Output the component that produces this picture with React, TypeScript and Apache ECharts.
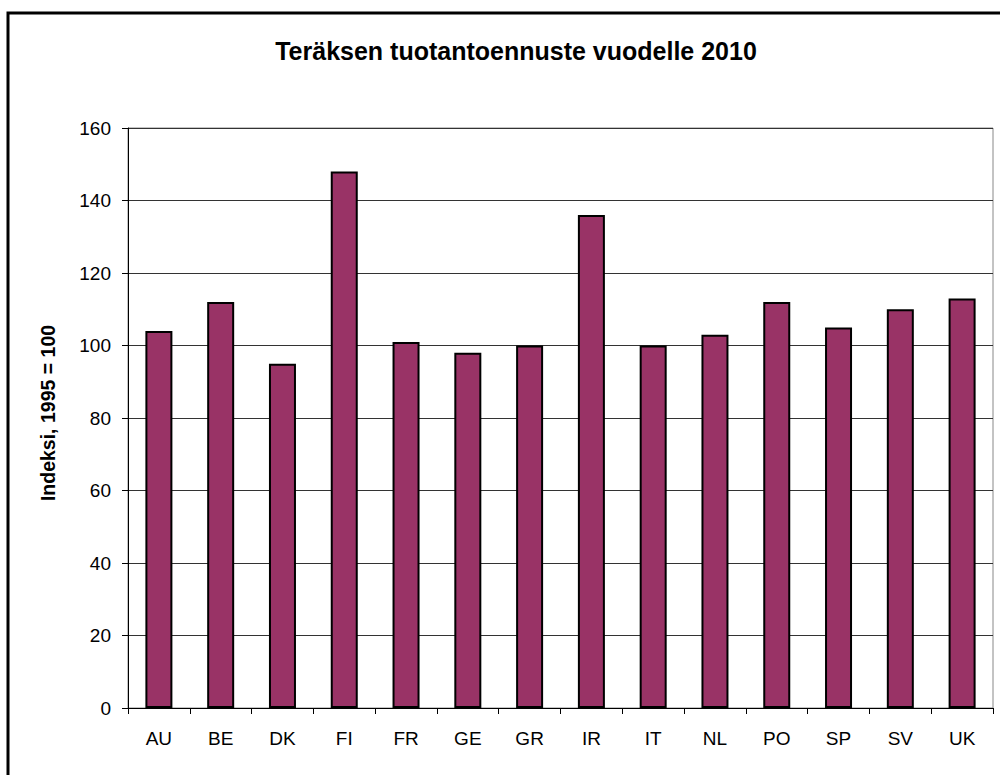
import React, { useEffect, useRef } from "react";
import * as echarts from "echarts";

const categories = ["AU", "BE", "DK", "FI", "FR", "GE", "GR", "IR", "IT", "NL", "PO", "SP", "SV", "UK"];
const values = [104, 112, 95, 148, 101, 98, 100, 136, 100, 103, 112, 105, 110, 113];
const titleText = "Teräksen tuotantoennuste vuodelle 2010";
const yAxisName = "Indeksi, 1995 = 100";

const FONT = "'Liberation Sans', Arial, sans-serif";

export default function App() {
  const ref = useRef<HTMLDivElement>(null);
  useEffect(() => {
    if (!ref.current) return;
    const chart = echarts.init(ref.current, undefined, { renderer: "svg" });
    chart.setOption({
      animation: false,
      backgroundColor: "#ffffff",
      title: {
        text: titleText,
        left: 511,
        top: 33,
        textAlign: "center",
        textStyle: { fontFamily: FONT, fontSize: 25, fontWeight: "bold", color: "#000" },
      },
      graphic: [
        {
          type: "rect",
          shape: { x: 8, y: 13, width: 1000, height: 780 },
          style: { fill: "none", stroke: "#000", lineWidth: 3 },
          silent: true,
        },
      ],
      grid: {
        left: 128,
        top: 128,
        right: 7,
        bottom: 67,
        show: true,
        borderColor: "#888",
        borderWidth: 1,
      },
      xAxis: {
        type: "category",
        data: categories,
        axisLine: { show: true, lineStyle: { color: "#000", width: 1 } },
        axisTick: { show: true, length: 6, lineStyle: { color: "#000" }, alignWithLabel: false },
        axisLabel: { fontFamily: FONT, fontSize: 19, color: "#000", margin: 21 },
        splitLine: { show: false },
      },
      yAxis: {
        type: "value",
        min: 0,
        max: 160,
        interval: 20,
        name: yAxisName,
        nameLocation: "middle",
        nameGap: 70,
        nameRotate: 90,
        nameTextStyle: { fontFamily: FONT, fontSize: 19.5, fontWeight: "bold", color: "#000", padding: [0, 0, 0, 10] },
        axisLine: { show: true, lineStyle: { color: "#000", width: 1 } },
        axisTick: { show: true, length: 6, lineStyle: { color: "#000" } },
        axisLabel: { fontFamily: FONT, fontSize: 19, color: "#000", margin: 17 },
        splitLine: { show: true, lineStyle: { color: "#333", width: 1 } },
      },
      series: [
        {
          type: "bar",
          data: values,
          barWidth: 27,
          itemStyle: { color: "#993366", borderColor: "#000", borderWidth: 2 },
        },
      ],
    });
    return () => chart.dispose();
  }, []);
  return (
    <div
      ref={ref}
      style={{ position: "fixed", left: 0, top: 0, width: 1000, height: 775 }}
    />
  );
}
